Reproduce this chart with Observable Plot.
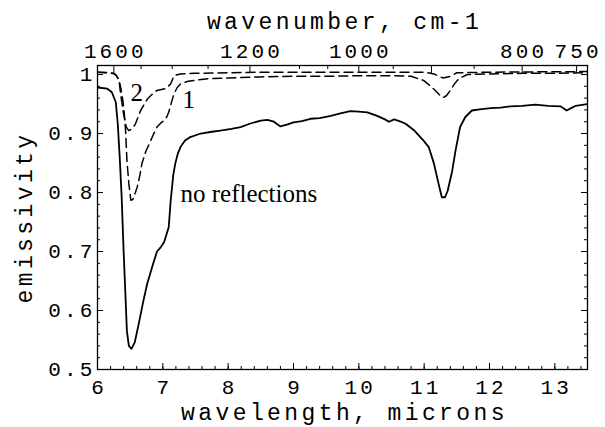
<!DOCTYPE html>
<html><head><meta charset="utf-8">
<script src="https://cdn.jsdelivr.net/npm/d3@7"></script>
<script src="https://cdn.jsdelivr.net/npm/@observablehq/plot@0.6"></script>
<style>body{margin:0;background:#fff}</style>
</head><body><div id="chart"></div>
<script>
// ---- data (wavelength in microns, emissivity) ----
const noReflX = [6.0,6.15,6.22,6.28,6.31,6.34,6.37,6.40,6.43,6.45,6.48,6.52,6.57,6.63,6.70,6.76,6.84,6.91,6.96,7.02,7.09,7.12,7.16,7.19,7.23,7.27,7.34,7.42,7.58,7.75,7.88,8.05,8.19,8.34,8.50,8.60,8.70,8.80,8.90,9.0,9.13,9.26,9.40,9.57,9.72,9.87,10.0,10.13,10.28,10.40,10.46,10.54,10.62,10.71,10.85,10.99,11.07,11.15,11.22,11.27,11.32,11.36,11.43,11.48,11.55,11.63,11.73,11.85,12.02,12.17,12.32,12.50,12.70,12.90,13.09,13.18,13.25,13.32,13.5];
const noReflY = [0.978,0.976,0.970,0.953,0.917,0.860,0.792,0.700,0.620,0.565,0.540,0.535,0.546,0.577,0.615,0.645,0.675,0.700,0.706,0.716,0.741,0.786,0.830,0.849,0.866,0.877,0.888,0.894,0.900,0.903,0.905,0.908,0.911,0.917,0.922,0.923,0.920,0.912,0.915,0.919,0.921,0.925,0.926,0.930,0.934,0.938,0.937,0.936,0.930,0.924,0.920,0.924,0.921,0.917,0.905,0.888,0.877,0.849,0.815,0.792,0.792,0.803,0.837,0.871,0.911,0.928,0.939,0.941,0.943,0.944,0.946,0.947,0.949,0.947,0.946,0.939,0.943,0.947,0.950];

const refl1X = [6.0,6.2,6.28,6.33,6.36,6.39,6.41,6.43,6.45,6.48,6.51,6.54,6.58,6.61,6.65,6.68,6.74,6.79,6.85,6.91,6.97,7.02,7.06,7.09,7.13,7.17,7.22,7.27,7.37,7.47,7.7,8.0,8.5,9.0,9.5,10.0,10.5,10.8,10.99,11.08,11.17,11.23,11.29,11.34,11.40,11.47,11.53,11.66,12.0,12.5,13.0,13.5];
const refl1Y = [1.004,1.003,1.000,0.990,0.975,0.955,0.933,0.905,0.855,0.815,0.787,0.788,0.800,0.810,0.830,0.849,0.870,0.882,0.897,0.911,0.918,0.922,0.928,0.936,0.952,0.967,0.978,0.984,0.988,0.990,0.993,0.994,0.996,0.997,0.997,0.998,0.998,0.997,0.990,0.982,0.973,0.966,0.961,0.964,0.973,0.985,0.993,1.000,1.001,1.002,1.002,1.003];

const refl2X = [6.0,6.25,6.29,6.33,6.36,6.40,6.44,6.48,6.53,6.58,6.66,6.76,6.84,6.91,7.04,7.12,7.17,7.27,7.47,8.5,10.0,11.0,11.15,11.29,11.40,11.5,12.0,13.5];
const refl2Y = [1.004,1.002,0.998,0.990,0.962,0.933,0.911,0.905,0.908,0.916,0.939,0.958,0.967,0.973,0.976,0.984,0.998,1.001,1.002,1.004,1.004,1.004,1.001,0.994,0.997,1.003,1.004,1.005];

// ---- axes ----
const xTicks = [6,7,8,9,10,11,12,13];
const xMinor = d3.range(6, 13.5001, 0.2);
const yTicks = [0.5,0.6,0.7,0.8,0.9,1.0];
const yTickLabels = ["0.5","0.6","0.7","0.8","0.9","1"];
const yMinor = d3.range(0.5, 1.0151, 0.02);
const wnLabelled = [1600,1200,1000,800,750];
const wnMajor = [1600,1200,1000,900,800,750];
const wnMinor = [1500,1400,1300,1100,1050,950,850];

const labels = [
  {text:"2", x:6.505, y:0.969},
  {text:"1", x:7.30, y:0.956},
  {text:"no reflections", x:7.27, y:0.798}
];

const toPts = (xs, ys) => xs.map((x,i)=>({x, y: ys[i]}));

const W = 605, H = 427, mT = 65, mB = 58, mL = 97, mR = 18;
const pw = W - mL - mR, ph = H - mT - mB;
const fmtY = d => yTickLabels[yTicks.indexOf(d)];
const mono = "'Liberation Mono', 'Courier New', monospace";

const chart = Plot.plot({
  width: W, height: H,
  marginTop: mT, marginBottom: mB, marginLeft: mL, marginRight: mR,
  x: {domain: [6, 13.5], axis: null},
  y: {domain: [0.5, 1.0153], axis: null},
  style: {fontFamily: mono, background: "#fff", color: "#000", overflow: "visible"},
  marks: [
    // curves
    Plot.line(toPts(noReflX, noReflY), {x:"x", y:"y", stroke:"#000", strokeWidth:1.8, clip:true}),
    Plot.line(toPts(refl1X, refl1Y), {x:"x", y:"y", stroke:"#000", strokeWidth:1.5, strokeDasharray:"9,5", clip:true}),
    Plot.line(toPts(refl2X, refl2Y), {x:"x", y:"y", stroke:"#000", strokeWidth:1.5, strokeDasharray:"9,5", clip:true}),
    // frame
    Plot.frame({stroke:"#000", strokeWidth:1.3}),
    // bottom ticks (inside)
    Plot.tickX(xTicks, {x: d=>d, insetTop: ph - 6, stroke:"#000"}),
    Plot.tickX(xMinor, {x: d=>d, insetTop: ph - 3, stroke:"#000"}),
    // top ticks (wavenumber)
    Plot.tickX(wnMajor, {x: d=>10000/d, insetBottom: ph - 8, stroke:"#000"}),
    Plot.tickX(wnMinor, {x: d=>10000/d, insetBottom: ph - 4, stroke:"#000"}),
    // left & right ticks
    Plot.tickY(yTicks, {y: d=>d, insetRight: pw - 6, stroke:"#000"}),
    Plot.tickY(yMinor, {y: d=>d, insetRight: pw - 3, stroke:"#000"}),
    Plot.tickY(yTicks, {y: d=>d, insetLeft: pw - 6, stroke:"#000"}),
    Plot.tickY(yMinor, {y: d=>d, insetLeft: pw - 3, stroke:"#000"}),
    // tick labels
    Plot.text(xTicks, {x: d=>d, text: d=>String(d), frameAnchor:"bottom", lineAnchor:"middle", dy: 18, dx: 1.5, fontSize: 21}),
    Plot.text(wnLabelled, {x: d=>10000/d, text: d=>String(d), frameAnchor:"top", lineAnchor:"middle", dy: -14, dx: 1.5, fontSize: 21}),
    Plot.text(yTicks, {y: d=>d, text: fmtY, frameAnchor:"left", textAnchor:"end", lineAnchor:"middle", dx: -2, fontSize: 21}),
    // axis titles
    Plot.text(["wavelength, microns"], {frameAnchor:"bottom", textAnchor:"middle", lineAnchor:"middle", dy: 43, dx: 2, fontSize: 23}),
    Plot.text(["wavenumber, cm-1"], {frameAnchor:"top", textAnchor:"middle", lineAnchor:"middle", dy: -44, dx: 2, fontSize: 23}),
    Plot.text(["emissivity"], {frameAnchor:"left", rotate: -90, textAnchor:"middle", lineAnchor:"middle", dx: -73, fontSize: 23}),
    // in-plot labels
    Plot.text(labels, {x:"x", y:"y", text:"text", textAnchor:"start", lineAnchor:"middle", fontFamily:"'Liberation Serif', 'Times New Roman', serif", fontSize: 25})
  ]
});
// widen the monospace texts (Courier-like wide spacing)
d3.select(chart).selectAll('g[aria-label="text"]').each(function() {
  const ff = this.getAttribute("font-family") || "";
  if (ff.includes("Serif")) return;
  const fs = +this.getAttribute("font-size") || 10;
  this.style.letterSpacing = (fs * 0.148).toFixed(2) + "px";
});
document.getElementById("chart").appendChild(chart);
</script>
</body></html>
